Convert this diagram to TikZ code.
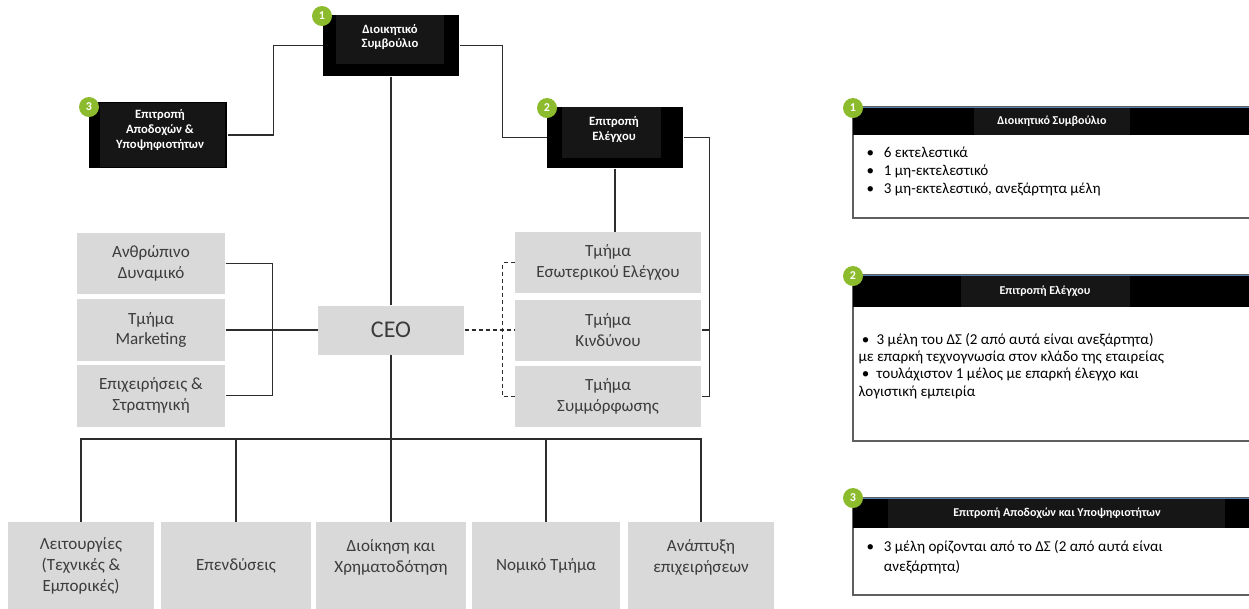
\documentclass[tikz,border=0pt]{standalone}
\usepackage{fontspec}
\setmainfont{Carlito}

\definecolor{boxgrey}{RGB}{217,217,217}
\definecolor{boxtext}{RGB}{60,60,60}
\definecolor{innerblack}{RGB}{22,22,22}
\definecolor{badgegreen}{RGB}{141,187,46}
\definecolor{linegrey}{RGB}{45,45,45}
\definecolor{panelgrey}{RGB}{95,95,95}
\definecolor{headblue}{RGB}{84,126,180}

\newcommand{\bul}{\makebox[13pt][l]{•}}

\tikzset{every picture/.style={line width=0.75pt}}
\tikzset{
  greybox/.style={fill=boxgrey, inner sep=0pt, align=center, text=boxtext, font=\fontsize{12.8}{15.5}\selectfont},
  blackbox/.style={fill=black, inner sep=0pt},
  whitetext/.style={text=white, inner sep=0pt, align=center, font=\bfseries\fontsize{9.5}{11}\selectfont},
  headtext/.style={text=white, inner sep=0pt, font=\bfseries\fontsize{9}{10}\selectfont},
  badge/.style={circle, fill=badgegreen, text=white, inner sep=0pt, minimum size=15pt, font=\bfseries\fontsize{9}{9}\selectfont},
  link/.style={draw=linegrey, line width=1pt},
  panel/.style={draw=panelgrey, line width=1pt, fill=white}
}

\begin{document}
\begin{tikzpicture}[x=0.75pt,y=0.75pt,yscale=-1,xscale=1]
    \useasboundingbox (0,0) rectangle (1249,608);

    %Shape: Rectangle - board
    \node [blackbox, minimum width=102pt, minimum height=45.75pt] (board) at (391,45.5) {};
    \fill [innerblack] (336,15) rectangle (444,64);
    \draw (390,37) node [whitetext] (boardtxt) {Διοικητικό\\Συμβούλιο};
    %Shape: Rectangle - remuneration committee
    \node [blackbox, minimum width=103.5pt, minimum height=49.5pt] (remco) at (158,135) {};
    \fill [innerblack] (100,103) rectangle (225,167);
    \draw (160,130) node [whitetext] (remcotxt) {Επιτροπή\\Αποδοχών \&\\Υποψηφιοτήτων};
    %Shape: Rectangle - audit committee
    \node [blackbox, minimum width=102pt, minimum height=45.75pt] (audit) at (615,137.5) {};
    \fill [innerblack] (562,107) rectangle (661,158);
    \draw (614,129.5) node [whitetext] (audittxt) {Επιτροπή\\Ελέγχου};

    % Grey boxes, left
    \node [greybox, minimum width=111pt, minimum height=45.75pt] (hr) at (151,263.5) {Ανθρώπινο\\Δυναμικό};
    \node [greybox, minimum width=111pt, minimum height=46.5pt] (mkt) at (151,330) {Τμήμα\\Marketing};
    \node [greybox, minimum width=111pt, minimum height=46.5pt] (strat) at (151,395.5) {Επιχειρήσεις \&\\Στρατηγική};
    % CEO
    \node [greybox, minimum width=109.5pt, minimum height=36.75pt, font=\fontsize{18}{20}\selectfont] (ceo) at (391,330) {CEO};
    % Grey boxes, right
    \node [greybox, minimum width=139.5pt, minimum height=45.75pt] (intaud) at (608,262.5) {Τμήμα\\Εσωτερικού Ελέγχου};
    \node [greybox, minimum width=139.5pt, minimum height=45.75pt] (risk) at (608,330) {Τμήμα\\Κινδύνου};
    \node [greybox, minimum width=139.5pt, minimum height=45.75pt] (comp) at (608,396.5) {Τμήμα\\Συμμόρφωσης};
    % Grey boxes, bottom
    \node [greybox, minimum width=109.5pt, minimum height=66pt] (ops) at (81,566) {Λειτουργίες\\(Τεχνικές \&\\Εμπορικές)};
    \node [greybox, minimum width=112.5pt, minimum height=66pt] (inv) at (236,566) {Επενδύσεις};
    \node [greybox, minimum width=112.5pt, minimum height=66pt] (fin) at (391,566) {Διοίκηση και\\Χρηματοδότηση\\~};
    \node [greybox, minimum width=111pt, minimum height=66pt] (legal) at (546,566) {Νομικό Τμήμα};
    \node [greybox, minimum width=109.5pt, minimum height=66pt] (dev) at (701,566) {Ανάπτυξη\\επιχειρήσεων\\~};

    %Straight Lines
    \draw [link] (board.west) -- ++(-49,0) |- (remco.east);
    \draw [link] (board.east) -- ++(43,0) |- (audit.west);
    \draw [link] (board.south) -- (ceo.north);
    \draw [link] (audit.south) -- (audit.south |- intaud.north);
    \draw [link] (audit.east) -- ++(26,0) |- (comp.east);
    \draw [link] (risk.east) -- ++(8,0);
    \draw [link] (hr.east) -- ++(47,0) |- (strat.east);
    \draw [link] (mkt.east) -- (ceo.west);
    \draw [link, dash pattern=on 3pt off 2.25pt] (ceo.east) -- (risk.west);
    \draw [link, dash pattern=on 3pt off 2.25pt] (intaud.west) -- ++(-12,0) |- (comp.west);
    \coordinate (bus) at (391,439);
    \draw [link] (ceo.south) -- (bus);
    \draw [link] (ops.north) -- (ops.north |- bus) -- (dev.north |- bus) -- (dev.north);
    \foreach \b in {inv,fin,legal}
      \draw [link] (\b.north) -- (\b.north |- bus);

    % Badges
    \node [badge] (b1) at (322,16) {1};
    \node [badge] (b2) at (547,108) {2};
    \node [badge] (b3) at (89,107) {3};

    %Shape: Panel 1
    \draw [panel] (853,107) rectangle (1262,218);
    \fill [black] (853,107) rectangle (1262,135);
    \fill [innerblack] (974,107) rectangle (1130,135);
    \draw [headblue, line width=0.5pt] (853,107) -- (1262,107);
    \draw (1052,121) node [headtext] (p1title) {Διοικητικό Συμβούλιο};
    \draw (866,146) node [anchor=north west][inner sep=0pt][align=left][font=\fontsize{11.3}{13.5}\selectfont] (p1list) {\bul 6 εκτελεστικά\\\bul 1 μη-εκτελεστικό\\\bul 3 μη-εκτελεστικό, ανεξάρτητα μέλη};
    \node [badge] (p1badge) at (853,108) {1};

    %Shape: Panel 2
    \draw [panel] (853,275) rectangle (1262,441);
    \fill [black] (853,275) rectangle (1262,307);
    \fill [innerblack] (961,275) rectangle (1130,307);
    \draw [headblue, line width=0.5pt] (853,275) -- (1262,275);
    \draw (1045,291) node [headtext] (p2title) {Επιτροπή Ελέγχου};
    \draw (858,333) node [anchor=north west][inner sep=0pt][align=left][font=\fontsize{11.3}{12.9}\selectfont] (p2list) {\hspace*{2.5pt}•\hspace*{5.5pt}3 μέλη του ΔΣ (2 από αυτά είναι ανεξάρτητα)\\με επαρκή τεχνογνωσία στον κλάδο της εταιρείας\\\hspace*{2.5pt}•\hspace*{5.5pt}τουλάχιστον 1 μέλος με επαρκή έλεγχο και\\λογιστική εμπειρία};
    \node [badge] (p2badge) at (853,276) {2};

    %Shape: Panel 3
    \draw [panel] (853,498) rectangle (1262,595);
    \fill [black] (853,498) rectangle (1262,528);
    \fill [innerblack] (888,498) rectangle (1225,528);
    \draw [headblue, line width=0.5pt] (853,498) -- (1262,498);
    \draw (1057,513) node [headtext] (p3title) {Επιτροπή Αποδοχών και Υποψηφιοτήτων};
    \draw (866,540) node [anchor=north west][inner sep=0pt][align=left][font=\fontsize{11.3}{15}\selectfont] (p3list) {\bul 3 μέλη ορίζονται από το ΔΣ (2 από αυτά είναι\\\hspace*{13pt}ανεξάρτητα)};
    \node [badge] (p3badge) at (853,498) {3};

\end{tikzpicture}
\end{document}
